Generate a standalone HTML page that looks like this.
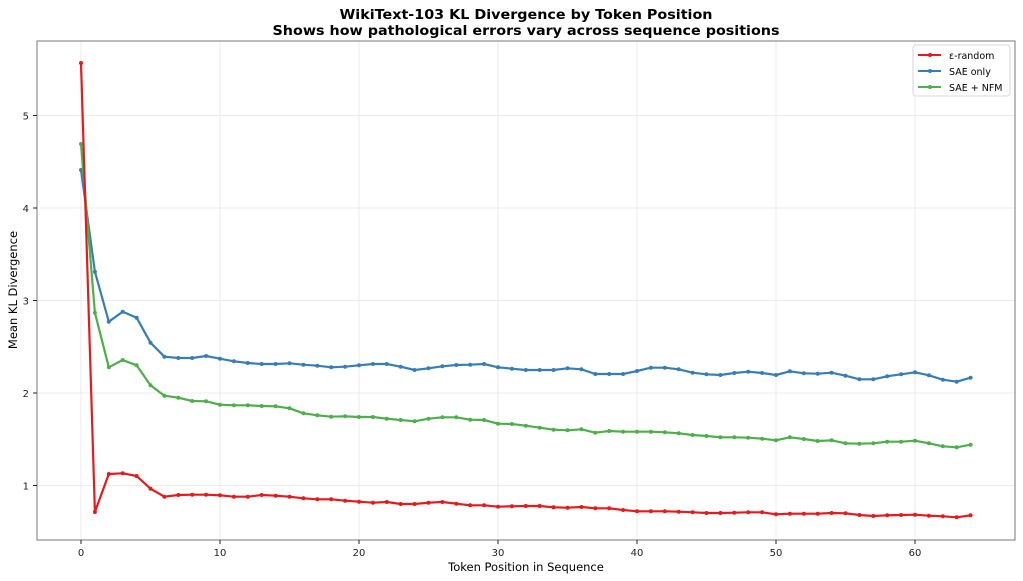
<!DOCTYPE html>
<html><head><meta charset="utf-8"><style>
html,body{margin:0;padding:0;background:#fff;}
svg{display:block;font-family:"DejaVu Sans","Liberation Sans",sans-serif;}
</style></head><body>
<svg id="s" width="1023" height="581" xmlns="http://www.w3.org/2000/svg">
<rect width="1023" height="581" fill="#fff"/>
<g id="grid" stroke="#e6e6e6" stroke-width="0.8"></g>
<g id="series"></g>
<rect x="37" y="41" width="978" height="499" fill="none" stroke="#777" stroke-width="1"/>
<g id="ticks" font-size="10" fill="#222"></g>
<text x="526" y="19" text-anchor="middle" font-size="13" font-weight="bold" textLength="373" lengthAdjust="spacingAndGlyphs">WikiText-103 KL Divergence by Token Position</text>
<text x="526" y="35" text-anchor="middle" font-size="13" font-weight="bold" textLength="507" lengthAdjust="spacingAndGlyphs">Shows how pathological errors vary across sequence positions</text>
<text x="526" y="571" text-anchor="middle" font-size="11.5">Token Position in Sequence</text>
<text transform="translate(17,290) rotate(-90)" text-anchor="middle" font-size="11.5">Mean KL Divergence</text>
<g>
<rect x="913" y="45" width="97" height="51" rx="3" fill="#fff" stroke="#ccc" stroke-width="0.8"/>
<line x1="918" y1="55" x2="941" y2="55" stroke="#e41a1c" stroke-width="2"/><circle cx="930" cy="55" r="2" fill="#e41a1c"/>
<text x="949" y="59" font-size="9.5">ε-random</text>
<line x1="918" y1="71" x2="941" y2="71" stroke="#377eb8" stroke-width="2"/><circle cx="930" cy="71" r="2" fill="#377eb8"/>
<text x="949" y="75" font-size="9.5">SAE only</text>
<line x1="918" y1="87" x2="941" y2="87" stroke="#4daf4a" stroke-width="2"/><circle cx="930" cy="87" r="2" fill="#4daf4a"/>
<text x="949" y="91" font-size="9.5">SAE + NFM</text>
</g>
</svg>
<script>
const NS="http://www.w3.org/2000/svg";
function el(t,a,p){const e=document.createElementNS(NS,t);for(const k in a)e.setAttribute(k,a[k]);p.appendChild(e);return e;}
const X=i=>81+i*13.9;
const grid=document.getElementById('grid'),ticks=document.getElementById('ticks'),ser=document.getElementById('series');
for(let v=0;v<=60;v+=10){const x=X(v);el('line',{x1:x,y1:41,x2:x,y2:540},grid);el('line',{x1:x,y1:540,x2:x,y2:544,stroke:'#222'},ticks);const t=el('text',{x:x,y:556,'text-anchor':'middle'},ticks);t.textContent=v;}
const ys={5:115.5,4:208,3:300.5,2:393,1:485.5};
for(const v in ys){const y=ys[v];el('line',{x1:37,y1:y,x2:1015,y2:y},grid);el('line',{x1:33,y1:y,x2:37,y2:y,stroke:'#222'},ticks);const t=el('text',{x:29,y:y+4,'text-anchor':'end'},ticks);t.textContent=v;}
const blue=[170,271.7,321.7,311.7,317.7,342.7,356.7,358,358,356,358.7,361.3,363,364,364,363.3,364.7,365.7,367.3,366.7,365.3,364,364,366.7,370,368.3,366.3,365,364.7,364,367.3,368.7,370,370,370,368.3,369.3,374,374,374,371,367.7,367.7,369.3,372.7,374.3,375,373,371.7,373,375,371.3,373.3,373.7,372.7,375.7,379.3,379.3,376.3,374.3,372.3,375.3,379.7,381.7,377.7];
const green=[144,312.7,367.3,360,365.3,385.3,395.7,397.7,401,401.3,404.7,405.3,405.3,406,406.3,408.3,413.3,415.3,416.7,416.3,417,417,418.7,420,421.3,418.7,417.3,417.3,419.7,420,423.7,424,425.7,427.7,429.7,430.3,429.3,432.7,431,431.7,431.7,431.7,432.3,433.3,435,436,437.3,437.3,437.7,438.7,440.3,437.3,439,441,440.3,443.3,443.7,443.3,441.7,441.7,440.7,443.3,446.3,447.3,444.7];
const red=[63,512,474,473.3,476,488.7,496.7,495,494.7,494.7,495.3,496.7,496.7,495,495.7,496.7,498.3,499.3,499.3,500.7,501.7,502.7,502,504,504,502.7,502,503.7,505.3,505.3,506.7,506.3,506,506,507.3,507.7,507,508.3,508.3,510,511.3,511.3,511.3,511.7,512.3,513,513,512.7,512.3,512.3,514.3,513.7,513.7,513.7,513,513.3,515,516,515.3,515,514.7,515.7,516.3,517.3,515.3];
function draw(d,c){el('polyline',{points:d.map((y,i)=>X(i)+','+y).join(' '),fill:'none',stroke:c,'stroke-width':2.2,'stroke-linejoin':'round'},ser);d.forEach((y,i)=>el('circle',{cx:X(i),cy:y,r:2,fill:c},ser));}
draw(blue,'#377eb8');draw(green,'#4daf4a');draw(red,'#e41a1c');
</script>
</body></html>
